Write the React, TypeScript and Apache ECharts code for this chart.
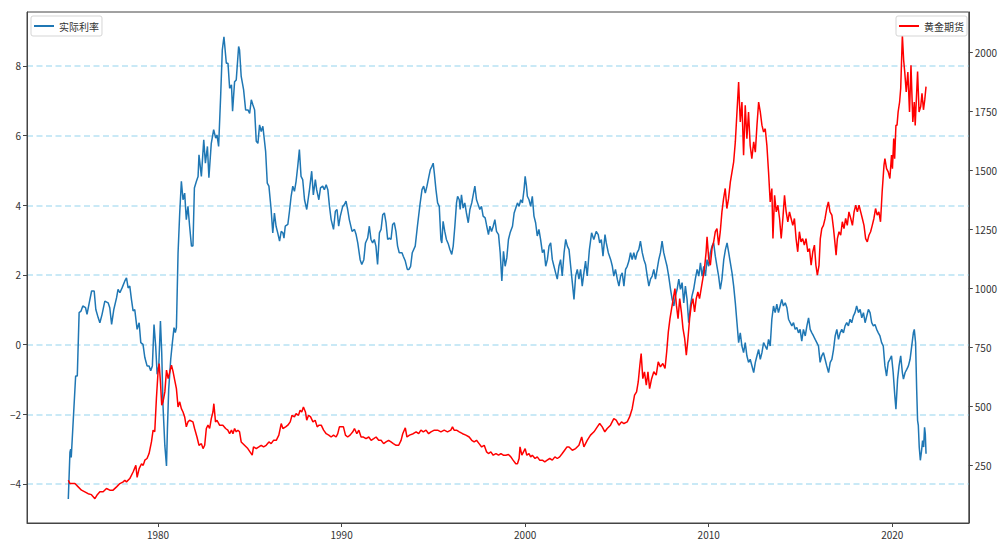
import React, { useEffect, useRef } from "react";
import * as echarts from "echarts";

// 实际利率 (left axis) — [year, value]
const realRate: [number, number][] = [
  [1975.11, -4.43], [1975.2, -3.09], [1975.24, -3.0], [1975.27, -3.24], [1975.51, -0.9], [1975.6, -0.9],
  [1975.7, 0.92], [1975.8, 0.96], [1975.9, 1.11], [1976.05, 1.06], [1976.13, 0.87], [1976.25, 1.2],
  [1976.38, 1.54], [1976.52, 1.54], [1976.61, 1.01], [1976.74, 0.77], [1976.83, 0.63], [1976.95, 0.87],
  [1977.1, 1.25], [1977.28, 1.2], [1977.37, 1.06], [1977.47, 0.58], [1977.59, 1.01], [1977.74, 1.35],
  [1977.82, 1.59], [1977.92, 1.49], [1978.04, 1.63], [1978.19, 1.83], [1978.28, 1.92], [1978.37, 1.63],
  [1978.46, 1.68], [1978.55, 1.3], [1978.64, 0.97], [1978.73, 1.01], [1978.86, 0.44], [1978.97, 0.63],
  [1979.06, 0.06], [1979.18, 0.01], [1979.28, -0.37], [1979.4, -0.61], [1979.51, -0.61], [1979.6, -0.75],
  [1979.69, -0.61], [1979.78, 0.58], [1979.87, -0.04], [1979.95, -0.85], [1980.04, -0.61], [1980.13, 0.68],
  [1980.2, -0.23], [1980.27, -1.76], [1980.37, -2.9], [1980.46, -3.48], [1980.51, -2.43], [1980.58, -1.28],
  [1980.69, -0.42], [1980.78, 0.06], [1980.87, 0.49], [1980.94, 0.35], [1981.0, 0.49], [1981.09, 2.64],
  [1981.18, 3.78], [1981.27, 4.69], [1981.36, 4.16], [1981.45, 4.35], [1981.54, 3.59], [1981.63, 3.97],
  [1981.72, 3.4], [1981.82, 2.83], [1981.9, 2.83], [1981.98, 4.5], [1982.09, 4.69], [1982.18, 4.83],
  [1982.23, 5.45], [1982.36, 4.83], [1982.49, 5.88], [1982.58, 5.21], [1982.69, 5.69], [1982.77, 4.79],
  [1982.9, 5.78], [1983.03, 6.17], [1983.14, 5.93], [1983.21, 6.02], [1983.3, 5.69], [1983.41, 7.13],
  [1983.5, 8.46], [1983.59, 8.84], [1983.72, 8.08], [1983.81, 8.08], [1983.9, 7.36], [1984.0, 7.46],
  [1984.06, 6.7], [1984.17, 7.55], [1984.26, 7.6], [1984.39, 8.56], [1984.44, 8.46], [1984.53, 7.7],
  [1984.66, 7.32], [1984.77, 6.74], [1984.9, 6.74], [1984.99, 6.64], [1985.08, 7.03], [1985.17, 6.88],
  [1985.26, 6.74], [1985.35, 5.84], [1985.44, 5.78], [1985.53, 6.31], [1985.62, 6.12], [1985.71, 6.27],
  [1985.86, 5.55], [1985.95, 4.64], [1986.04, 4.55], [1986.16, 3.88], [1986.25, 3.21], [1986.34, 3.78],
  [1986.43, 3.4], [1986.52, 3.21], [1986.62, 2.97], [1986.71, 3.25], [1986.8, 3.21], [1986.86, 3.06],
  [1986.93, 3.4], [1987.07, 3.45], [1987.16, 3.83], [1987.25, 4.26], [1987.34, 4.55], [1987.43, 4.4],
  [1987.52, 4.69], [1987.61, 5.12], [1987.7, 5.6], [1987.79, 4.83], [1987.88, 4.74], [1987.98, 4.16],
  [1988.1, 3.88], [1988.25, 4.45], [1988.37, 4.98], [1988.46, 4.3], [1988.57, 4.74], [1988.64, 4.45],
  [1988.76, 4.16], [1988.85, 4.5], [1988.97, 4.55], [1989.06, 4.45], [1989.16, 4.59], [1989.25, 4.45],
  [1989.34, 3.97], [1989.43, 3.59], [1989.56, 3.31], [1989.66, 3.83], [1989.75, 3.88], [1989.84, 3.4],
  [1989.93, 3.69], [1990.06, 3.97], [1990.15, 4.02], [1990.24, 4.12], [1990.33, 3.88], [1990.42, 3.59],
  [1990.57, 3.25], [1990.7, 3.31], [1990.79, 3.16], [1990.88, 2.92], [1991.01, 2.44], [1991.1, 2.3],
  [1991.21, 2.44], [1991.3, 2.92], [1991.42, 3.06], [1991.51, 3.4], [1991.6, 3.02], [1991.69, 2.92],
  [1991.78, 3.02], [1991.87, 2.83], [1991.96, 2.3], [1992.06, 3.21], [1992.15, 3.31], [1992.24, 3.73],
  [1992.33, 3.78], [1992.42, 3.5], [1992.51, 3.02], [1992.6, 3.06], [1992.69, 3.02], [1992.78, 3.45],
  [1992.87, 3.5], [1992.96, 3.25], [1993.05, 2.83], [1993.14, 2.64], [1993.29, 2.64], [1993.36, 2.54],
  [1993.47, 2.4], [1993.58, 2.16], [1993.67, 2.16], [1993.76, 2.25], [1993.85, 2.64], [1994.01, 2.83],
  [1994.13, 3.4], [1994.27, 4.02], [1994.38, 4.45], [1994.47, 4.55], [1994.56, 4.35], [1994.65, 4.55],
  [1994.74, 4.79], [1994.83, 5.02], [1994.92, 5.12], [1994.99, 5.21], [1995.05, 4.93], [1995.14, 4.45],
  [1995.23, 4.07], [1995.32, 3.97], [1995.41, 3.02], [1995.46, 2.92], [1995.53, 3.54], [1995.62, 3.25],
  [1995.71, 3.02], [1995.82, 2.88], [1995.9, 2.73], [1996.0, 2.59], [1996.08, 2.83], [1996.17, 3.4],
  [1996.26, 4.07], [1996.32, 4.26], [1996.41, 4.16], [1996.46, 3.88], [1996.53, 4.3], [1996.62, 3.92],
  [1996.71, 4.07], [1996.8, 3.78], [1996.9, 3.5], [1996.99, 3.88], [1997.09, 4.07], [1997.17, 4.3],
  [1997.26, 4.55], [1997.35, 4.16], [1997.44, 4.02], [1997.53, 3.88], [1997.62, 3.97], [1997.71, 3.69],
  [1997.82, 3.64], [1997.89, 3.45], [1998.0, 3.16], [1998.08, 3.4], [1998.17, 3.25], [1998.26, 3.4],
  [1998.35, 3.59], [1998.44, 3.25], [1998.55, 3.16], [1998.64, 2.64], [1998.73, 1.83], [1998.82, 2.68],
  [1998.91, 2.25], [1999.0, 2.49], [1999.09, 3.02], [1999.18, 3.21], [1999.31, 3.4], [1999.4, 3.78],
  [1999.49, 3.92], [1999.58, 4.07], [1999.67, 3.97], [1999.76, 4.16], [1999.85, 4.07], [1999.94, 4.45],
  [2000.0, 4.83], [2000.07, 4.55], [2000.12, 4.26], [2000.21, 4.16], [2000.3, 3.97], [2000.39, 4.26],
  [2000.48, 3.69], [2000.57, 3.5], [2000.66, 3.12], [2000.75, 3.31], [2000.84, 3.02], [2000.94, 2.64],
  [2001.03, 2.73], [2001.12, 2.25], [2001.21, 2.44], [2001.3, 2.83], [2001.39, 2.92], [2001.48, 2.44],
  [2001.57, 2.25], [2001.66, 2.06], [2001.75, 1.88], [2001.84, 2.25], [2001.93, 2.44], [2002.02, 1.97],
  [2002.12, 2.64], [2002.21, 3.02], [2002.3, 2.83], [2002.39, 2.73], [2002.48, 2.25], [2002.57, 1.78],
  [2002.66, 1.3], [2002.75, 1.97], [2002.84, 2.16], [2002.93, 1.88], [2003.02, 2.16], [2003.11, 1.68],
  [2003.2, 2.06], [2003.29, 2.4], [2003.38, 1.97], [2003.5, 2.73], [2003.62, 3.21], [2003.74, 3.02],
  [2003.87, 3.25], [2003.98, 3.16], [2004.06, 2.92], [2004.15, 3.02], [2004.24, 2.54], [2004.35, 3.16],
  [2004.42, 2.92], [2004.53, 2.64], [2004.66, 2.44], [2004.75, 2.25], [2004.83, 1.97], [2004.92, 2.16],
  [2005.02, 1.88], [2005.11, 1.68], [2005.2, 1.97], [2005.29, 2.06], [2005.38, 1.68], [2005.47, 2.16],
  [2005.56, 2.25], [2005.65, 2.4], [2005.74, 2.64], [2005.83, 2.44], [2005.92, 2.64], [2006.01, 2.44],
  [2006.1, 2.64], [2006.19, 2.73], [2006.28, 2.97], [2006.38, 2.64], [2006.47, 2.44], [2006.56, 2.3],
  [2006.65, 1.97], [2006.74, 1.68], [2006.83, 1.88], [2006.92, 1.97], [2007.01, 2.16], [2007.1, 1.88],
  [2007.19, 2.16], [2007.28, 2.44], [2007.37, 2.64], [2007.46, 2.97], [2007.55, 2.64], [2007.64, 2.44],
  [2007.73, 2.25], [2007.82, 1.97], [2007.92, 1.59], [2008.01, 1.3], [2008.1, 1.11], [2008.19, 1.4],
  [2008.28, 1.59], [2008.37, 1.88], [2008.46, 1.59], [2008.55, 1.78], [2008.64, 1.2], [2008.73, 1.68],
  [2008.82, 1.3], [2008.91, 0.63], [2009.0, 1.11], [2009.09, 1.4], [2009.18, 1.59], [2009.27, 1.88],
  [2009.37, 2.16], [2009.46, 1.97], [2009.55, 2.35], [2009.64, 1.97], [2009.73, 2.25], [2009.82, 1.97],
  [2009.91, 2.44], [2010.0, 2.25], [2010.09, 2.64], [2010.18, 2.83], [2010.27, 2.92], [2010.36, 2.54],
  [2010.45, 2.25], [2010.54, 1.97], [2010.63, 1.59], [2010.72, 1.88], [2010.82, 2.44], [2010.91, 2.73],
  [2011.0, 2.92], [2011.09, 2.64], [2011.18, 2.35], [2011.27, 2.06], [2011.36, 1.68], [2011.45, 1.2],
  [2011.54, 0.63], [2011.63, 0.06], [2011.72, 0.34], [2011.81, -0.04], [2011.9, -0.23], [2011.99, 0.06],
  [2012.08, -0.32], [2012.17, -0.51], [2012.26, -0.42], [2012.45, -0.8], [2012.54, -0.51], [2012.63, -0.32],
  [2012.72, -0.14], [2012.81, -0.42], [2012.9, -0.23], [2012.99, 0.06], [2013.08, -0.04], [2013.17, -0.14],
  [2013.26, 0.15], [2013.35, -0.04], [2013.44, 0.73], [2013.53, 1.11], [2013.62, 0.92], [2013.71, 1.16],
  [2013.8, 0.92], [2013.89, 1.11], [2013.98, 1.3], [2014.07, 1.11], [2014.17, 1.2], [2014.26, 1.06],
  [2014.35, 0.73], [2014.44, 0.63], [2014.53, 0.54], [2014.62, 0.63], [2014.71, 0.44], [2014.8, 0.49],
  [2014.89, 0.34], [2014.98, 0.44], [2015.07, 0.1], [2015.16, 0.44], [2015.26, 0.25], [2015.35, 0.54],
  [2015.44, 0.77], [2015.53, 0.44], [2015.62, 0.34], [2015.71, 0.25], [2015.8, 0.15], [2015.89, 0.06],
  [2015.98, -0.04], [2016.07, -0.51], [2016.16, -0.32], [2016.25, -0.23], [2016.34, -0.42], [2016.43, -0.61],
  [2016.53, -0.8], [2016.62, -0.51], [2016.71, -0.42], [2016.8, -0.14], [2016.89, 0.25], [2016.98, 0.44],
  [2017.07, 0.15], [2017.16, 0.34], [2017.25, 0.44], [2017.34, 0.34], [2017.43, 0.54], [2017.52, 0.63],
  [2017.61, 0.54], [2017.7, 0.73], [2017.79, 0.63], [2017.88, 0.82], [2017.97, 0.92], [2018.06, 1.11],
  [2018.16, 0.92], [2018.25, 1.01], [2018.34, 0.77], [2018.43, 0.92], [2018.52, 0.63], [2018.61, 0.82],
  [2018.7, 1.01], [2018.79, 0.92], [2018.88, 0.63], [2018.97, 0.54], [2019.06, 0.58], [2019.15, 0.44],
  [2019.24, 0.34], [2019.33, 0.25], [2019.42, 0.06], [2019.51, -0.04], [2019.6, -0.61], [2019.69, -0.9],
  [2019.78, -0.51], [2019.87, -0.42], [2019.96, -0.32], [2020.05, -0.8], [2020.14, -1.47], [2020.2, -1.85],
  [2020.29, -0.99], [2020.37, -0.61], [2020.46, -0.32], [2020.55, -0.8], [2020.61, -0.99], [2020.7, -0.8],
  [2020.79, -0.71], [2020.88, -0.61], [2020.97, -0.42], [2021.06, -0.04], [2021.15, 0.34], [2021.2, 0.44],
  [2021.27, 0.06], [2021.33, -1.28], [2021.38, -2.18], [2021.42, -2.32], [2021.47, -2.94], [2021.53, -3.32],
  [2021.6, -3.03], [2021.65, -2.75], [2021.71, -2.94], [2021.76, -2.37], [2021.8, -2.56], [2021.84, -3.13],
];

// 黄金期货 (right axis) — [year, value]
const goldFutures: [number, number][] = [
  [1975.11, 188], [1975.2, 174], [1975.47, 174], [1975.65, 160], [1975.83, 146], [1976.01, 139],
  [1976.19, 131], [1976.37, 127], [1976.56, 110], [1976.69, 127], [1976.83, 139], [1977.01, 139],
  [1977.19, 153], [1977.37, 146], [1977.55, 146], [1977.74, 160], [1977.92, 174], [1978.1, 181],
  [1978.19, 188], [1978.28, 181], [1978.46, 195], [1978.64, 223], [1978.79, 251], [1978.86, 200],
  [1978.97, 237], [1979.1, 258], [1979.19, 251], [1979.28, 273], [1979.4, 280], [1979.51, 301],
  [1979.64, 350], [1979.73, 400], [1979.82, 393], [1979.91, 534], [1980.0, 647], [1980.06, 682],
  [1980.13, 604], [1980.2, 506], [1980.27, 520], [1980.37, 562], [1980.46, 654], [1980.55, 618],
  [1980.64, 647], [1980.73, 675], [1980.82, 647], [1980.91, 611], [1981.0, 576], [1981.09, 498],
  [1981.18, 520], [1981.27, 491], [1981.36, 477], [1981.45, 456], [1981.54, 414], [1981.63, 435],
  [1981.72, 442], [1981.9, 435], [1981.99, 407], [1982.12, 371], [1982.23, 336], [1982.36, 343],
  [1982.45, 322], [1982.54, 336], [1982.63, 407], [1982.72, 421], [1982.81, 407], [1982.9, 449],
  [1982.99, 477], [1983.04, 512], [1983.13, 435], [1983.21, 442], [1983.35, 421], [1983.53, 421],
  [1983.68, 407], [1983.8, 400], [1983.9, 385], [1984.0, 400], [1984.08, 385], [1984.17, 407],
  [1984.26, 393], [1984.35, 400], [1984.44, 393], [1984.53, 350], [1984.71, 336], [1984.89, 322],
  [1985.01, 308], [1985.13, 294], [1985.2, 329], [1985.35, 322], [1985.49, 329], [1985.62, 336],
  [1985.75, 329], [1985.89, 336], [1986.04, 350], [1986.16, 343], [1986.29, 357], [1986.44, 357],
  [1986.58, 379], [1986.71, 428], [1986.8, 407], [1986.95, 414], [1987.07, 421], [1987.2, 435],
  [1987.3, 463], [1987.43, 456], [1987.52, 470], [1987.65, 463], [1987.74, 484], [1987.83, 477],
  [1987.92, 498], [1988.03, 477], [1988.1, 442], [1988.2, 463], [1988.31, 456], [1988.44, 435],
  [1988.56, 442], [1988.67, 414], [1988.76, 421], [1988.89, 421], [1989.02, 400], [1989.16, 385],
  [1989.3, 379], [1989.43, 371], [1989.56, 379], [1989.7, 371], [1989.79, 385], [1989.88, 414],
  [1989.97, 414], [1990.1, 414], [1990.21, 379], [1990.33, 371], [1990.46, 379], [1990.61, 393],
  [1990.7, 407], [1990.83, 385], [1990.94, 400], [1991.06, 371], [1991.19, 371], [1991.33, 364],
  [1991.48, 371], [1991.61, 357], [1991.75, 364], [1991.88, 371], [1992.02, 357], [1992.15, 357],
  [1992.29, 343], [1992.42, 350], [1992.56, 357], [1992.69, 350], [1992.82, 343], [1992.97, 336],
  [1993.11, 336], [1993.24, 357], [1993.33, 385], [1993.47, 410], [1993.56, 371], [1993.7, 379],
  [1993.9, 385], [1994.06, 393], [1994.2, 385], [1994.32, 400], [1994.45, 393], [1994.6, 400],
  [1994.74, 385], [1994.87, 393], [1995.05, 400], [1995.23, 400], [1995.41, 393], [1995.59, 400],
  [1995.77, 393], [1995.95, 400], [1996.04, 414], [1996.13, 400], [1996.26, 400], [1996.41, 393],
  [1996.59, 385], [1996.77, 379], [1996.95, 371], [1997.09, 357], [1997.22, 350], [1997.35, 357],
  [1997.49, 343], [1997.63, 329], [1997.77, 336], [1997.9, 308], [1998.0, 301], [1998.13, 308],
  [1998.26, 294], [1998.41, 301], [1998.55, 294], [1998.68, 301], [1998.81, 294], [1998.95, 294],
  [1999.09, 297], [1999.22, 287], [1999.34, 273], [1999.49, 258], [1999.58, 258], [1999.67, 280],
  [1999.72, 329], [1999.82, 294], [1999.91, 308], [2000.0, 322], [2000.09, 294], [2000.21, 301],
  [2000.3, 287], [2000.39, 294], [2000.54, 280], [2000.66, 287], [2000.79, 273], [2000.94, 273],
  [2001.07, 266], [2001.2, 273], [2001.34, 280], [2001.48, 273], [2001.62, 287], [2001.75, 280],
  [2001.88, 287], [2002.02, 301], [2002.15, 315], [2002.28, 329], [2002.39, 329], [2002.57, 315],
  [2002.75, 322], [2002.93, 336], [2003.08, 371], [2003.2, 329], [2003.38, 357], [2003.56, 379],
  [2003.75, 393], [2003.93, 414], [2004.06, 428], [2004.2, 414], [2004.34, 393], [2004.47, 407],
  [2004.65, 421], [2004.83, 449], [2004.96, 442], [2005.11, 421], [2005.25, 435], [2005.38, 428],
  [2005.56, 435], [2005.69, 456], [2005.83, 491], [2005.96, 548], [2006.07, 562], [2006.16, 604],
  [2006.25, 675], [2006.32, 724], [2006.41, 618], [2006.5, 647], [2006.6, 590], [2006.69, 647],
  [2006.78, 576], [2006.89, 618], [2007.01, 647], [2007.14, 633], [2007.25, 689], [2007.37, 668],
  [2007.5, 682], [2007.62, 661], [2007.71, 731], [2007.8, 816], [2007.89, 872], [2007.98, 915],
  [2008.07, 957], [2008.16, 999], [2008.24, 929], [2008.33, 872], [2008.42, 957], [2008.51, 901],
  [2008.6, 830], [2008.69, 788], [2008.78, 717], [2008.87, 788], [2008.96, 872], [2009.05, 929],
  [2009.14, 957], [2009.23, 901], [2009.32, 957], [2009.41, 985], [2009.5, 957], [2009.59, 999],
  [2009.68, 1041], [2009.77, 1084], [2009.86, 1155], [2009.91, 1218], [2010.0, 1126], [2010.09, 1098],
  [2010.18, 1169], [2010.27, 1197], [2010.36, 1240], [2010.45, 1253], [2010.54, 1183], [2010.63, 1240],
  [2010.72, 1324], [2010.81, 1380], [2010.9, 1423], [2010.99, 1338], [2011.08, 1380], [2011.18, 1451],
  [2011.27, 1493], [2011.36, 1536], [2011.45, 1620], [2011.54, 1747], [2011.63, 1874], [2011.68, 1775],
  [2011.72, 1705], [2011.81, 1789], [2011.9, 1564], [2011.99, 1775], [2012.08, 1634], [2012.17, 1747],
  [2012.26, 1605], [2012.35, 1549], [2012.45, 1620], [2012.54, 1577], [2012.63, 1691], [2012.72, 1789],
  [2012.81, 1747], [2012.9, 1691], [2012.99, 1662], [2013.08, 1676], [2013.17, 1605], [2013.26, 1493],
  [2013.35, 1366], [2013.44, 1423], [2013.5, 1211], [2013.59, 1394], [2013.68, 1324], [2013.77, 1352],
  [2013.86, 1296], [2013.95, 1211], [2014.04, 1296], [2014.13, 1394], [2014.22, 1324], [2014.31, 1282],
  [2014.4, 1324], [2014.49, 1296], [2014.58, 1267], [2014.67, 1296], [2014.76, 1211], [2014.85, 1155],
  [2014.94, 1240], [2015.03, 1197], [2015.12, 1211], [2015.21, 1183], [2015.3, 1211], [2015.4, 1155],
  [2015.49, 1169], [2015.58, 1098], [2015.67, 1155], [2015.76, 1183], [2015.84, 1098], [2015.92, 1056],
  [2016.01, 1098], [2016.08, 1211], [2016.16, 1253], [2016.25, 1267], [2016.34, 1296], [2016.43, 1338],
  [2016.52, 1366], [2016.61, 1324], [2016.71, 1310], [2016.8, 1253], [2016.89, 1183], [2016.94, 1141],
  [2017.01, 1211], [2017.1, 1240], [2017.19, 1225], [2017.28, 1282], [2017.37, 1253], [2017.46, 1296],
  [2017.55, 1267], [2017.64, 1324], [2017.74, 1296], [2017.83, 1267], [2017.92, 1324], [2018.01, 1352],
  [2018.1, 1324], [2018.19, 1352], [2018.28, 1324], [2018.37, 1296], [2018.46, 1267], [2018.55, 1211],
  [2018.64, 1197], [2018.73, 1225], [2018.82, 1240], [2018.91, 1267], [2019.0, 1296], [2019.09, 1338],
  [2019.18, 1310], [2019.27, 1324], [2019.36, 1282], [2019.45, 1409], [2019.55, 1522], [2019.6, 1549],
  [2019.69, 1507], [2019.78, 1493], [2019.87, 1465], [2019.96, 1564], [2020.01, 1507], [2020.08, 1634],
  [2020.13, 1549], [2020.2, 1691], [2020.26, 1691], [2020.32, 1747], [2020.4, 1789], [2020.46, 1846],
  [2020.55, 2072], [2020.62, 1967], [2020.68, 1916], [2020.76, 1832], [2020.85, 1916], [2020.94, 1747],
  [2021.02, 1944], [2021.12, 1705], [2021.2, 1789], [2021.25, 1690], [2021.38, 1918], [2021.46, 1747],
  [2021.55, 1770], [2021.62, 1826], [2021.7, 1756], [2021.77, 1798], [2021.84, 1854],
];

const yearTicks = [1980, 1990, 2000, 2010, 2020];
const rateTicks = [-4, -2, 0, 2, 4, 6, 8];
const goldTicks = [250, 500, 750, 1000, 1250, 1500, 1750, 2000];
const seriesNames = ["实际利率", "黄金期货"];

const FONT = "'Noto Sans CJK SC', 'DejaVu Sans', sans-serif";

export default function App() {
  const ref = useRef<HTMLDivElement>(null);

  useEffect(() => {
    document.body.style.margin = "0";
    if (!ref.current) return;
    const chart = echarts.init(ref.current, undefined, { renderer: "svg" });
    const labelStyle = { color: "#333", fontSize: 10, fontFamily: FONT };
    const legendBase = {
      orient: "horizontal", top: 16, icon: "rect",
      itemWidth: 20, itemHeight: 2, padding: [5, 3],
      borderColor: "#d5d5d5", borderWidth: 1, borderRadius: 2, backgroundColor: "#fff",
      textStyle: { ...labelStyle, fontSize: 10 },
    };
    chart.setOption({
      animation: false,
      backgroundColor: "#fff",
      textStyle: { fontFamily: FONT },
      grid: {
        left: 27, right: 29, top: 12, bottom: 30,
        show: true, borderColor: "#444", borderWidth: 1, backgroundColor: "transparent",
      },
      legend: [
        { ...legendBase, data: [seriesNames[0]], left: 31 },
        { ...legendBase, data: [seriesNames[1]], right: 33 },
      ],
      xAxis: {
        type: "value", min: 1972.86, max: 2024.17,
        axisLine: { show: true, onZero: false, lineStyle: { color: "#444" } },
        axisTick: { show: true, length: 4, customValues: yearTicks, lineStyle: { color: "#444" } },
        axisLabel: { ...labelStyle, margin: 6, customValues: yearTicks, formatter: (v: number) => String(v) },
        splitLine: { show: false },
      },
      yAxis: [
        {
          type: "value", min: -5.12, max: 9.55, position: "left",
          axisLine: { show: true, onZero: false, lineStyle: { color: "#444" } },
          axisTick: { show: true, length: 4, customValues: rateTicks, lineStyle: { color: "#444" } },
          axisLabel: {
            ...labelStyle, margin: 6, customValues: rateTicks,
            formatter: (v: number) => (v < 0 ? "\u2212" + Math.abs(v) : String(v)),
          },
          splitLine: {
            show: true,
            lineStyle: { color: "rgba(135,206,235,0.6)", width: 1.5, type: [6, 3.5] },
          },
        },
        {
          type: "value", min: 7, max: 2170, position: "right",
          axisLine: { show: true, onZero: false, lineStyle: { color: "#444" } },
          axisTick: { show: true, length: 4, customValues: goldTicks, lineStyle: { color: "#444" } },
          axisLabel: { ...labelStyle, margin: 6, customValues: goldTicks, formatter: (v: number) => String(v) },
          splitLine: { show: false },
        },
      ],
      series: [
        {
          name: seriesNames[0], type: "line", yAxisIndex: 0, data: realRate,
          symbol: "none", lineStyle: { color: "#1f77b4", width: 1.5 }, itemStyle: { color: "#1f77b4" },
        },
        {
          name: seriesNames[1], type: "line", yAxisIndex: 1, data: goldFutures,
          symbol: "none", lineStyle: { color: "#ff0000", width: 1.5 }, itemStyle: { color: "#ff0000" },
        },
      ],
    });
    return () => chart.dispose();
  }, []);

  return <div ref={ref} style={{ width: 1000, height: 553 }} />;
}
